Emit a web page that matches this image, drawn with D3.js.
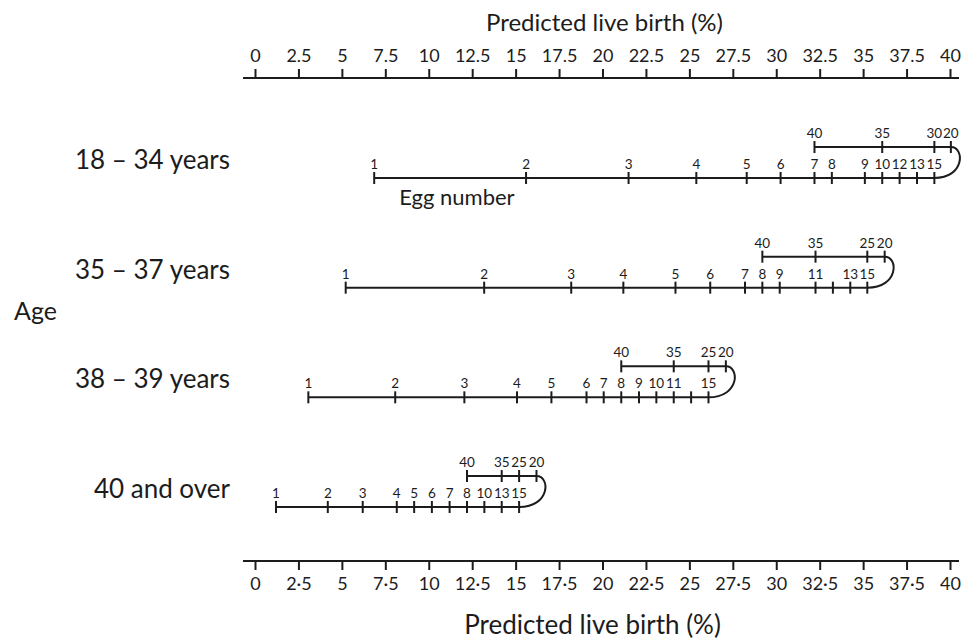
<!DOCTYPE html>
<html>
<head>
<meta charset="utf-8">
<script src="https://cdn.jsdelivr.net/npm/d3@7/dist/d3.min.js"></script>
<style>
  html, body { margin: 0; padding: 0; background: #fff; }
  svg { display: block; font-family: Lato, "Open Sans", sans-serif; }
  text { fill: #1c1c1c; }
</style>
</head>
<body>
<svg id="chart" width="964" height="642"></svg>
<script>
// Age groups of the nomogram, top to bottom
const ageGroups = ["18 – 34 years", "35 – 37 years", "38 – 39 years", "40 and over"];

// Predicted live birth (%) axis ticks
const axisTicks = [0, 2.5, 5, 7.5, 10, 12.5, 15, 17.5, 20, 22.5, 25, 27.5, 30, 32.5, 35, 37.5, 40];

// Egg number scale, rising part (1 → 15 eggs) for each age group
const eggsLow1834 = [1, 2, 3, 4, 5, 6, 7, 8, 9, 10, 12, 13, 15];
const birthLow1834 = [6.86, 15.6, 21.5, 25.4, 28.3, 30.25, 32.2, 33.2, 35.1, 36.1, 37.1, 38.1, 39.1];
const eggsLow3537 = [1, 2, 3, 4, 5, 6, 7, 8, 9, 11, 12, 13, 15];
const birthLow3537 = [5.22, 13.19, 18.2, 21.2, 24.2, 26.2, 28.2, 29.2, 30.2, 32.26, 33.26, 34.26, 35.24];
const eggsLow3839 = [1, 2, 3, 4, 5, 6, 7, 8, 9, 10, 11, 12, 15];
const birthLow3839 = [3.07, 8.07, 12.05, 15.08, 17.06, 19.08, 20.07, 21.08, 22.1, 23.1, 24.1, 25.1, 26.1];
const eggsLow40 = [1, 2, 3, 4, 5, 6, 7, 8, 10, 13, 15];
const birthLow40 = [1.21, 4.19, 6.2, 8.16, 9.16, 10.18, 11.2, 12.2, 13.2, 14.2, 15.2];

// Egg number scale, falling part (20 → 40 eggs) for each age group
const eggsHigh1834 = [40, 35, 30, 20];
const birthHigh1834 = [32.2, 36.1, 39.1, 40.05];
const eggsHigh3537 = [40, 35, 25, 20];
const birthHigh3537 = [29.2, 32.26, 35.24, 36.24];
const eggsHigh3839 = [40, 35, 25, 20];
const birthHigh3839 = [21.08, 24.1, 26.1, 27.1];
const eggsHigh40 = [40, 35, 25, 20];
const birthHigh40 = [12.2, 14.2, 15.2, 16.2];

// Ticks drawn without a number
const unlabeledEggs = [[], [12], [12], []];

const lowEggs = [eggsLow1834, eggsLow3537, eggsLow3839, eggsLow40];
const lowBirth = [birthLow1834, birthLow3537, birthLow3839, birthLow40];
const highEggs = [eggsHigh1834, eggsHigh3537, eggsHigh3839, eggsHigh40];
const highBirth = [birthHigh1834, birthHigh3537, birthHigh3839, birthHigh40];

const ink = "#1c1c1c";
const svg = d3.select("#chart");

const x = d3.scaleLinear().domain([0, 40]).range([255, 950]);
const rowY = d3.scalePoint().domain(ageGroups).range([178, 507]);

// ---- Top and bottom percentage axes ----
function drawAxis(yPos, orient, fmt) {
  const axis = (orient === "top" ? d3.axisTop(x) : d3.axisBottom(x))
    .tickValues(axisTicks)
    .tickFormat(fmt)
    .tickSizeInner(9)
    .tickSizeOuter(0)
    .tickPadding(orient === "top" ? 7 : 7);
  const g = svg.append("g").attr("transform", `translate(0,${yPos})`).call(axis);
  g.select(".domain").remove();
  g.append("line")
    .attr("x1", x(0) - 12).attr("x2", x(40) + 9)
    .attr("stroke", ink).attr("stroke-width", 2);
  g.selectAll(".tick line").attr("stroke", ink).attr("stroke-width", 2);
  g.selectAll(".tick text")
    .attr("fill", ink)
    .style("font-family", "Lato, sans-serif")
    .style("font-size", "18px");
  return g;
}
drawAxis(78, "top", d => String(d));
drawAxis(561, "bottom", d => String(d).replace(".", "·"));

svg.append("text")
  .attr("x", x(20) + 2).attr("y", 31)
  .attr("text-anchor", "middle")
  .style("font-size", "24px")
  .text("Predicted live birth (%)");

svg.append("text")
  .attr("x", x(20) - 10).attr("y", 634)
  .attr("text-anchor", "middle")
  .style("font-size", "26px")
  .text("Predicted live birth (%)");

// ---- Age labels ----
svg.append("text")
  .attr("x", 14).attr("y", 320)
  .style("font-size", "25px")
  .text("Age");

svg.selectAll("text.age")
  .data(ageGroups)
  .join("text")
  .attr("class", "age")
  .attr("x", 230)
  .attr("y", d => rowY(d) - 9)
  .attr("text-anchor", "end")
  .style("font-size", "26px")
  .text(d => d);

// ---- Egg number scales ----
ageGroups.forEach((grp, i) => {
  const yL = rowY(grp);
  const yU = yL - 31;
  const g = svg.append("g");
  const low = lowEggs[i].map((e, k) => ({ egg: e, p: lowBirth[i][k] }));
  const high = highEggs[i].map((e, k) => ({ egg: e, p: highBirth[i][k] }));

  const lowExt = d3.extent(low, d => d.p);
  const highExt = d3.extent(high, d => d.p);

  g.append("line")
    .attr("x1", x(lowExt[0])).attr("x2", x(lowExt[1]))
    .attr("y1", yL).attr("y2", yL)
    .attr("stroke", ink).attr("stroke-width", 2);
  g.append("line")
    .attr("x1", x(highExt[0])).attr("x2", x(highExt[1]))
    .attr("y1", yU).attr("y2", yU)
    .attr("stroke", ink).attr("stroke-width", 2);

  // turning curve joining 15 eggs (lower) to 20 eggs (upper)
  const p15 = low.find(d => d.egg === 15).p;
  const p20 = high.find(d => d.egg === 20).p;
  const xu = x(p20), xl = x(p15);
  g.append("path")
    .attr("d", `M${xu},${yU} C${xu + 14},${yU} ${xu + 14},${yL} ${xl},${yL}`)
    .attr("fill", "none").attr("stroke", ink).attr("stroke-width", 2);

  [[low, yL], [high, yU]].forEach(([pts, yy]) => {
    g.selectAll(null).data(pts).join("line")
      .attr("x1", d => x(d.p)).attr("x2", d => x(d.p))
      .attr("y1", yy - 6).attr("y2", yy + 6)
      .attr("stroke", ink).attr("stroke-width", 2);
    g.selectAll(null).data(pts.filter(d => !unlabeledEggs[i].includes(d.egg))).join("text")
      .attr("x", d => x(d.p)).attr("y", yy - 9)
      .attr("text-anchor", "middle")
      .style("font-size", "13.5px")
      .text(d => d.egg);
  });

  if (i === 0) {
    g.append("text")
      .attr("x", x(lowExt[0]) + 25).attr("y", yL + 27)
      .style("font-size", "22px")
      .text("Egg number");
  }
});
</script>
</body>
</html>
